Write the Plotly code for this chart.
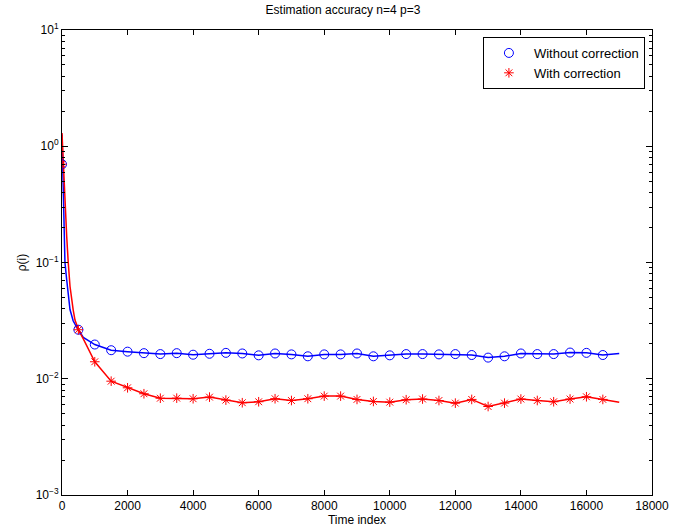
import plotly.graph_objects as go

# time index of the plotted points
t_line = [0, 40, 90, 143, 190, 244, 340, 396, 450, 500, 650, 1000, 1500, 2000, 2500, 3000,
          3500, 4000, 4500, 5000, 5500, 6000, 6500, 7000, 7500, 8000, 8500, 9000, 9500,
          10000, 10500, 11000, 11500, 12000, 12500, 13000, 13500, 14000, 14500, 15000,
          15500, 16000, 16500, 17000]

# without correction (blue)
rho_plain = [1.26, 0.30, 0.10, 0.071, 0.052, 0.0394, 0.0315, 0.0292, 0.0277, 0.0264, 0.0227,
             0.0197, 0.0176, 0.0171, 0.0166, 0.0163, 0.0166, 0.0161, 0.0164, 0.0167, 0.0165,
             0.0159, 0.0165, 0.0162, 0.0156, 0.0162, 0.0162, 0.0165, 0.0156, 0.0159, 0.0163,
             0.0163, 0.0162, 0.0163, 0.0160, 0.0152, 0.0156, 0.0165, 0.0163, 0.0163, 0.0168,
             0.0167, 0.0160, 0.0165]

# with correction (red)
rho_corr = [1.30, 0.70, 0.45, 0.168, 0.10, 0.0625, 0.0394, 0.0320, 0.0292, 0.0264, 0.0220,
            0.0140, 0.00953, 0.00836, 0.00743, 0.00680, 0.00681, 0.00673, 0.00695, 0.00655,
            0.00622, 0.00634, 0.00673, 0.00650, 0.00673, 0.00709, 0.00709, 0.00664, 0.00638,
            0.00629, 0.00660, 0.00669, 0.00650, 0.00617, 0.00664, 0.00577, 0.00617, 0.00669,
            0.00650, 0.00634, 0.00669, 0.00700, 0.00664, 0.00629]

# markers every 500 steps
t_mark = list(range(0, 17000, 500))
rho_plain_mark = [0.70] + rho_plain[9:9 + 1] + rho_plain[11:43]
rho_corr_mark = [0.70] + rho_corr[9:9 + 1] + rho_corr[11:43]

x_ticks = list(range(0, 18001, 2000))
y_ticks = [1e-3, 1e-2, 1e-1, 1e0, 1e1]
y_ticktext = ['10<sup>−3</sup>', '10<sup>−2</sup>', '10<sup>−1</sup>', '10<sup>0</sup>', '10<sup>1</sup>']

FONT = 'Liberation Sans, Arial, sans-serif'

fig = go.Figure()

fig.add_trace(go.Scatter(x=t_line, y=rho_plain, mode='lines', showlegend=False,
                         line={'color': '#0000ff', 'width': 1.5}))
fig.add_trace(go.Scatter(x=t_line, y=rho_corr, mode='lines', showlegend=False,
                         line={'color': '#ff0000', 'width': 1.5}))
fig.add_trace(go.Scatter(x=t_mark, y=rho_plain_mark, mode='markers', name='Without correction',
                         marker={'symbol': 'circle-open', 'size': 9, 'color': '#0000ff',
                                 'line': {'width': 1, 'color': '#0000ff'}}))
fig.add_trace(go.Scatter(x=t_mark, y=rho_corr_mark, mode='markers', name='With correction',
                         marker={'symbol': 'asterisk-open', 'size': 8, 'color': '#ff0000',
                                 'line': {'width': 1, 'color': '#ff0000'}}))

axis_common = dict(showline=True, linecolor='black', linewidth=1, mirror='ticks',
                   ticks='inside', tickcolor='black', showgrid=False, zeroline=False,
                   automargin=False,
                   tickfont={'size': 12, 'color': 'black', 'family': FONT})

fig.update_xaxes(range=[0, 18000], tickvals=x_ticks, ticktext=[str(v) for v in x_ticks],
                 ticklen=5,
                 title={'text': 'Time index', 'standoff': 0,
                        'font': {'size': 12, 'color': 'black', 'family': FONT}},
                 **axis_common)
fig.update_yaxes(type='log', range=[-3, 1], tickvals=y_ticks, ticktext=y_ticktext, ticklen=6,
                 minor={'ticks': 'inside', 'ticklen': 3, 'tickcolor': 'black', 'dtick': 'D1',
                        'showgrid': False},
                 title={'text': 'ρ(i)', 'standoff': 6,
                        'font': {'size': 12, 'color': 'black', 'family': FONT}},
                 **axis_common)

fig.update_layout(
    width=686, height=530,
    margin={'l': 62, 'r': 34, 't': 30, 'b': 35, 'autoexpand': False},
    paper_bgcolor='white', plot_bgcolor='white',
    font={'family': FONT, 'color': 'black', 'size': 12},
    title={'text': 'Estimation accuracy n=4 p=3', 'x': 0.5, 'xanchor': 'center',
           'y': 0.99, 'yanchor': 'top', 'font': {'size': 12, 'color': 'black'}},
    legend={'x': 0.988, 'y': 0.985, 'xanchor': 'right', 'yanchor': 'top',
            'bgcolor': 'white', 'bordercolor': 'black', 'borderwidth': 1,
            'font': {'size': 13, 'color': 'black', 'family': FONT},
            'tracegroupgap': 0, 'itemwidth': 40},
)

# drop the default page margin so the figure sits at the window's corner
fig.write_html('out.html', config={'displayModeBar': False},
               post_script="document.body.style.margin='0';")
